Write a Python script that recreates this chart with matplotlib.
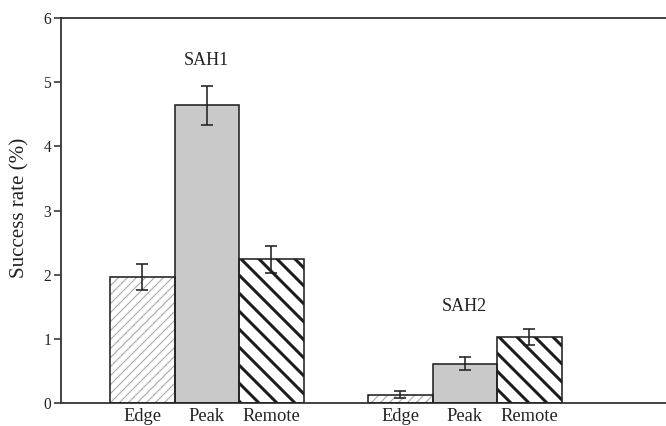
import matplotlib
matplotlib.use("Agg")
import matplotlib.pyplot as plt

# Success rates (%) and error bars per site for each group
sites = ["Edge", "Peak", "Remote"]
sah1_rate = [1.96, 4.64, 2.24]
sah1_err = [0.20, 0.30, 0.21]
sah2_rate = [0.13, 0.61, 1.03]
sah2_err = [0.05, 0.10, 0.13]
group_labels = ["SAH1", "SAH2"]
yticks = [0, 1, 2, 3, 4, 5, 6]

# A low dpi keeps the hatch spacing close to the printed pattern
DPI = 54.0


def pt(px):
    """Convert a pixel size to points at the figure dpi."""
    return px * 72.0 / DPI


plt.rcParams["font.family"] = ["Liberation Serif", "DejaVu Serif"]
plt.rcParams["hatch.linewidth"] = pt(1.0)

fig = plt.figure(figsize=(666 / DPI, 426 / DPI), dpi=DPI)
ax = fig.add_axes([61 / 666, 1 - 403 / 426, 1 - 61 / 666, (403 - 18) / 426])

ink = "#222222"
face = {"Edge": "white", "Peak": "#c9c9c9", "Remote": "white"}
hatch = {"Edge": "//", "Peak": "", "Remote": "\\"}
hatch_col = {"Edge": "#a8a8a8", "Peak": ink, "Remote": "#1c1c1c"}
hatch_lw = {"Edge": pt(1.1), "Peak": pt(1.0), "Remote": pt(3.0)}

x1 = [0, 1, 2]
x2 = [4, 5, 6]

for xs, rates, errs in ((x1, sah1_rate, sah1_err), (x2, sah2_rate, sah2_err)):
    for x, r, site in zip(xs, rates, sites):
        fill = ax.bar(x, r, width=1.0, color=face[site], hatch=hatch[site],
                      edgecolor=hatch_col[site], linewidth=0, zorder=2)
        for p in fill:
            if hasattr(p, "set_hatch_linewidth"):
                p.set_hatch_linewidth(hatch_lw[site])
        ax.bar(x, r, width=1.0, facecolor="none", edgecolor=ink,
               linewidth=pt(1.6), zorder=3)
    ax.errorbar(xs, rates, yerr=errs, fmt="none", ecolor=ink,
                elinewidth=pt(1.6), capsize=pt(6.5), capthick=pt(1.6), zorder=4)

ax.text(1, 5.34, group_labels[0], ha="center", va="center",
        fontsize=pt(18), color=ink)
ax.text(5, 1.50, group_labels[1], ha="center", va="center",
        fontsize=pt(18), color=ink)

ax.set_xlim(-1.26, 8.12)
ax.set_ylim(0, 6)
ax.set_yticks(yticks)
ax.set_xticks(x1 + x2)
ax.set_xticklabels(sites + sites)

ax.tick_params(axis="y", direction="out", length=pt(7), width=pt(1.5),
               pad=pt(3), labelsize=pt(15.5), colors=ink)
ax.tick_params(axis="x", length=0, pad=pt(5), labelsize=pt(18.5), colors=ink)

for side in ("left", "top", "bottom"):
    ax.spines[side].set_linewidth(pt(1.8))
    ax.spines[side].set_color("#333333")
ax.spines["right"].set_visible(False)

fig.text(20 / 666, 1 - 207.5 / 426, "Success rate (%)", rotation=90,
         ha="center", va="center", fontsize=pt(21), color=ink)

fig.savefig("out.png", dpi=DPI)
